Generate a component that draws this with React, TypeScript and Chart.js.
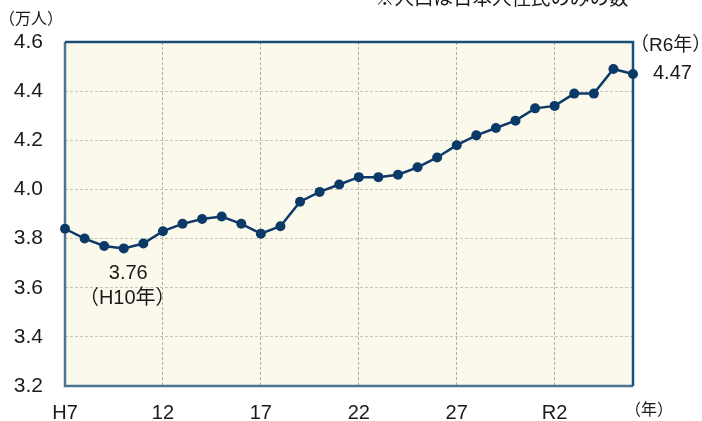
import React, { useEffect, useRef } from "react";
import { Chart, registerables } from "chart.js";
Chart.register(...registerables);

const categories = [
  "H7", "H8", "H9", "H10", "H11", "H12", "H13", "H14", "H15", "H16",
  "H17", "H18", "H19", "H20", "H21", "H22", "H23", "H24", "H25", "H26",
  "H27", "H28", "H29", "H30", "H31", "R2", "R3", "R4", "R5", "R6",
];
const population = [
  3.84, 3.80, 3.77, 3.76, 3.78, 3.83, 3.86, 3.88, 3.89, 3.86,
  3.82, 3.85, 3.95, 3.99, 4.02, 4.05, 4.05, 4.06, 4.09, 4.13,
  4.18, 4.22, 4.25, 4.28, 4.33, 4.34, 4.39, 4.39, 4.49, 4.47,
];
const shownTickIndices = [0, 5, 10, 15, 20, 25];
const shownTickLabels = ["H7", "12", "17", "22", "27", "R2"];

const LATIN = "'Liberation Sans', Arial, sans-serif";
const CJK = "'Liberation Sans', 'Noto Sans CJK JP', sans-serif";

const bgPlugin = {
  id: "bgFrame",
  beforeDraw(chart: any) {
    const { ctx, chartArea: a } = chart;
    ctx.save();
    ctx.fillStyle = "#FBF9EB";
    ctx.fillRect(a.left, a.top, a.right - a.left, a.bottom - a.top);
    ctx.restore();
  },
  beforeDatasetsDraw(chart: any) {
    const { ctx, chartArea: a } = chart;
    ctx.save();
    ctx.lineWidth = 2.5;
    ctx.strokeStyle = "#4E7492";
    ctx.beginPath();
    ctx.moveTo(a.left, a.top);
    ctx.lineTo(a.left, a.bottom);
    ctx.lineTo(a.right, a.bottom);
    ctx.stroke();
    ctx.strokeStyle = "#1B4E75";
    ctx.beginPath();
    ctx.moveTo(a.left, a.top);
    ctx.lineTo(a.right, a.top);
    ctx.lineTo(a.right, a.bottom);
    ctx.stroke();
    ctx.restore();
  },
  afterDraw(chart: any) {
    const { ctx } = chart;
    const meta = chart.getDatasetMeta(0);
    const minIdx = population.indexOf(Math.min(...population));
    const lastIdx = population.length - 1;
    const pMin = meta.data[minIdx];
    const pLast = meta.data[lastIdx];
    ctx.save();
    ctx.fillStyle = "#1a1a1a";
    ctx.textBaseline = "middle";
    ctx.textAlign = "center";
    ctx.font = `20px ${LATIN}`;
    ctx.fillText(population[minIdx].toFixed(2), pMin.x + 4.5, pMin.y + 25);
    ctx.font = `20px ${CJK}`;
    ctx.fillText("（H10年）", pMin.x + 3.5, pMin.y + 50);
    ctx.textAlign = "left";
    ctx.font = `19px ${CJK}`;
    ctx.fillText("（R6年）", pLast.x - 3, pLast.y - 28);
    ctx.font = `20px ${LATIN}`;
    ctx.fillText(population[lastIdx].toFixed(2), pLast.x + 20, pLast.y);
    ctx.font = `16px ${CJK}`;
    ctx.fillText("（万人）", -1, 20);
    ctx.fillText("（年）", 625, 411);
    ctx.font = `19.5px ${CJK}`;
    ctx.fillText("※人口は日本人住民のみの数", 375, 0);
    ctx.restore();
  },
};

export default function App() {
  const ref = useRef<HTMLCanvasElement>(null);
  useEffect(() => {
    document.body.style.margin = "0";
    const chart = new Chart(ref.current!, {
      type: "line",
      data: {
        labels: categories,
        datasets: [
          {
            data: population,
            borderColor: "#0C3A68",
            backgroundColor: "#0C3A68",
            borderWidth: 2.5,
            pointRadius: 5,
            pointBackgroundColor: "#0C3A68",
            pointBorderWidth: 0,
            tension: 0,
          },
        ],
      },
      options: {
        animation: false,
        responsive: false,
        devicePixelRatio: 1,
        layout: { padding: { top: 42, right: 69, left: 0, bottom: 0 } },
        plugins: { legend: { display: false }, tooltip: { enabled: false } },
        scales: {
          x: {
            type: "category",
            offset: false,
            afterFit: (s: any) => { s.height = 35; },
            grid: {
              drawTicks: false,
              color: (c: any) =>
                shownTickIndices.includes(c.index) && c.index !== 0 ? "#B3AEA2" : "rgba(0,0,0,0)",
              lineWidth: 1,
            },
            border: { display: false, dash: [3, 2] },
            ticks: {
              autoSkip: false,
              maxRotation: 0,
              padding: 15,
              color: "#1a1a1a",
              font: { family: LATIN, size: 20 },
              callback: (_v: any, i: number) => {
                const k = shownTickIndices.indexOf(i);
                return k >= 0 ? shownTickLabels[k] : "";
              },
            },
          },
          y: {
            min: 3.2,
            max: 4.6,
            afterFit: (s: any) => { s.width = 65; },
            grid: {
              drawTicks: false,
              color: (c: any) =>
                c.tick && (c.tick.value <= 3.2001 || c.tick.value >= 4.5999) ? "rgba(0,0,0,0)" : "#C9C5B8",
              lineWidth: 1,
            },
            border: { display: false, dash: [3, 2] },
            ticks: {
              stepSize: 0.2,
              padding: 22,
              color: "#1a1a1a",
              font: { family: LATIN, size: 21 },
              callback: (v: any) => Number(v).toFixed(1),
            },
          },
        },
      },
      plugins: [bgPlugin],
    } as any);
    return () => chart.destroy();
  }, []);
  return (
    <div style={{ position: "absolute", left: 0, top: 0, width: 702, height: 421 }}>
      <canvas ref={ref} width={702} height={421} />
    </div>
  );
}
